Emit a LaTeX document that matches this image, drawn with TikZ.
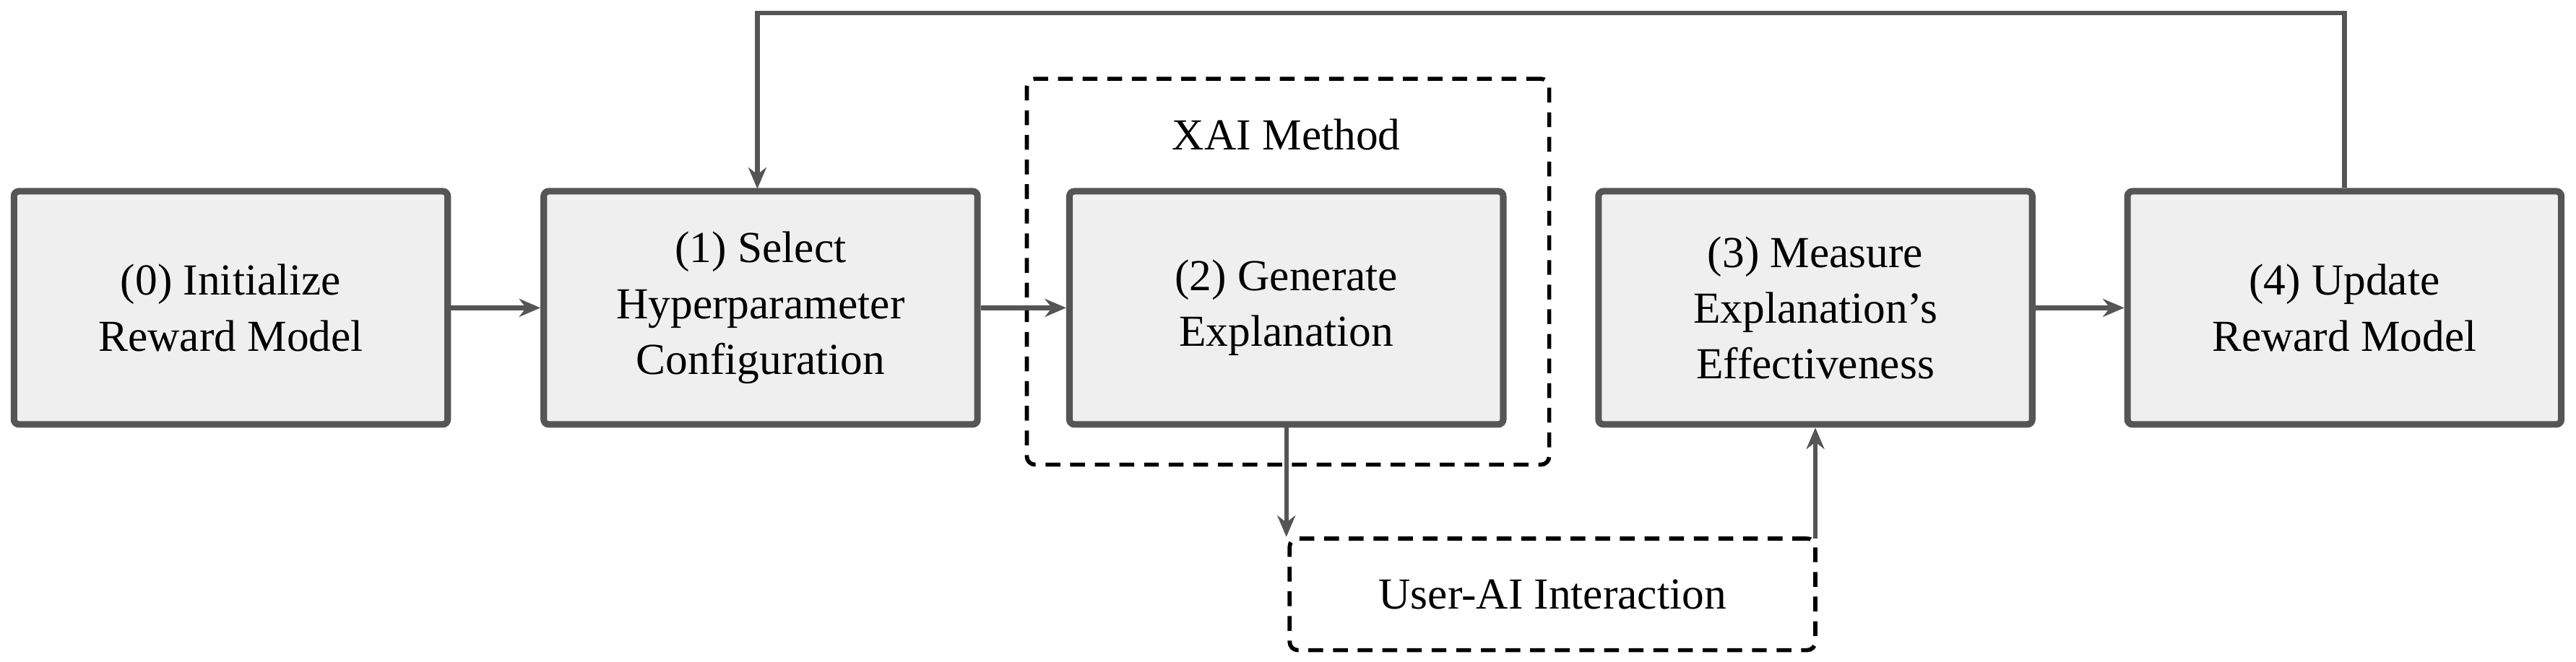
\documentclass[tikz,border=0pt]{standalone}
\usepackage{fontspec}
\setmainfont{Liberation Serif}
\usetikzlibrary{arrows.meta}
\definecolor{edge}{HTML}{555555}
\definecolor{boxfill}{HTML}{EFEFEF}
\begin{document}
\begin{tikzpicture}[x=1pt,y=-1pt,
  box/.style={draw=edge,fill=boxfill,line width=4pt,rounded corners=3pt,minimum width=264pt,minimum height=142pt,align=center,font=\fontsize{27}{34}\selectfont},
  dbox/.style={draw=black,line width=2.5pt,dashed,dash pattern=on 9pt off 6pt,rounded corners=5pt},
  arr/.style={draw=edge,line width=2.8pt,-{Stealth[length=13pt,width=11pt]}}]
\useasboundingbox (0,0) rectangle (1568,403);
\node[dbox,minimum width=318pt,minimum height=235pt] (xai) at (784,165.5) {};
\node[font=\fontsize{27}{34}\selectfont] (xl) at (783,82) {XAI Method};
\node[box] (b0) at (140.5,187.5) {(0) Initialize\\Reward Model};
\node[box] (b1) at (463,187.5) {(1) Select\\Hyperparameter\\Configuration};
\node[box] (b2) at (783,187.5) {(2) Generate\\Explanation};
\node[box] (b3) at (1105,187.5) {(3) Measure\\Explanation’s\\Effectiveness};
\node[box] (b4) at (1427,187.5) {(4) Update\\Reward Model};
\node[dbox,minimum width=320pt,minimum height=68pt,font=\fontsize{27}{34}\selectfont] (ua) at (945,362) {User-AI Interaction};
\draw[arr] (b0.east) -- (b1.west);
\draw[arr] (b1.east) -- (b2.west);
\draw[arr] (b3.east) -- (b4.west);
\draw[arr] (b2.south) -- (783,327);
\draw[arr] (1105,328) -- (b3.south);
\coordinate (t1) at (1427,8);
\coordinate (t2) at (461,8);
\draw[arr] (b4.north) -- (t1) -- (t2) -- (461,115);
\end{tikzpicture}
\end{document}
